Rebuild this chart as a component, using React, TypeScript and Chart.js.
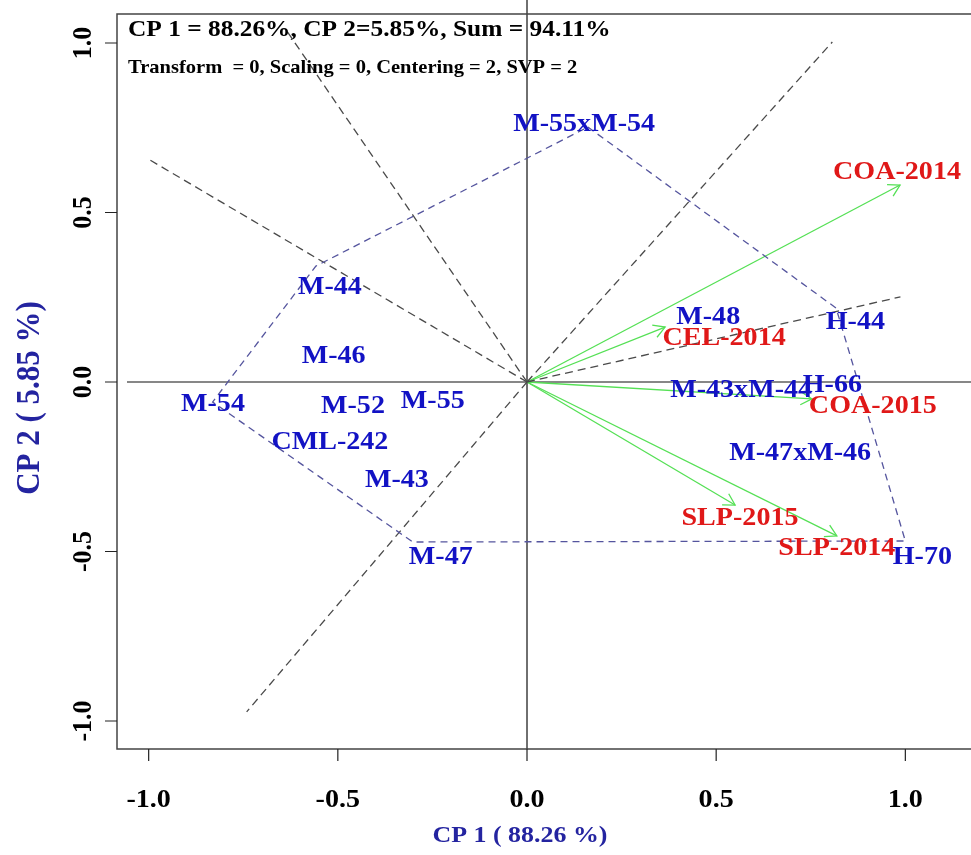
import React, { useEffect, useRef } from "react";
import { Chart, registerables } from "chart.js";

Chart.register(...registerables);

// ---------- data ----------
const genotypeNames = ["M-55xM-54", "M-44", "M-46", "M-54", "M-52", "M-55", "CML-242", "M-43", "M-47", "M-48", "H-44", "M-43xM-44", "H-66", "M-47xM-46", "H-70"];
const genotypeX = [0.151, -0.521, -0.511, -0.83, -0.46, -0.249, -0.521, -0.344, -0.228, 0.479, 0.868, 0.566, 0.807, 0.722, 1.045];
const genotypeY = [0.761, 0.28, 0.077, -0.065, -0.071, -0.056, -0.177, -0.289, -0.516, 0.192, 0.177, -0.024, -0.009, -0.209, -0.516];

const hullX = [0.161, 0.817, 1.0, -0.302, -0.831, -0.558, 0.161];
const hullY = [0.752, 0.218, -0.469, -0.472, -0.059, 0.342, 0.752];

const envNames = ["COA-2014", "CEL-2014", "COA-2015", "SLP-2015", "SLP-2014"];
const envX = [0.986, 0.365, 0.753, 0.55, 0.819];
const envY = [0.581, 0.162, -0.05, -0.363, -0.454];
const envLabelX = [0.978, 0.521, 0.914, 0.563, 0.819];
const envLabelY = [0.619, 0.13, -0.071, -0.401, -0.49];

const sectorX = [0.807, -0.64, -0.997, -0.741, 0.987];
const sectorY = [1.003, 1.044, 0.655, -0.973, 0.251];

const xTicks = [-1, -0.5, 0, 0.5, 1];
const xTickLabels = ["-1.0", "-0.5", "0.0", "0.5", "1.0"];
const yTicks = [-1, -0.5, 0, 0.5, 1];
const yTickLabels = ["-1.0", "-0.5", "0.0", "0.5", "1.0"];

const titleLine1 = "CP 1 = 88.26%, CP 2=5.85%, Sum = 94.11%";
const titleLine2 = "Transform  = 0, Scaling = 0, Centering = 2, SVP = 2";
const xTitle = "CP 1 ( 88.26 %)";
const yTitle = "CP 2 ( 5.85 %)";

// ---------- styles ----------
const SERIF = "'Liberation Serif', 'Times New Roman', serif";
const SX = 1.08;
const BLUE = "#1212c4";
const RED = "#e01818";
const GREEN = "#55e055";
const HULL = "#55559e";
const GRAY = "#4a4a4a";
const TITLE_BLUE = "#2424a0";

function drawText(ctx: CanvasRenderingContext2D, text: string, x: number, y: number, size: number, color: string, align: CanvasTextAlign = "center", rotate = false) {
  ctx.save();
  ctx.translate(x, y);
  ctx.scale(SX, 1);
  if (rotate) ctx.rotate(-Math.PI / 2);
  ctx.font = `bold ${size}px ${SERIF}`;
  ctx.fillStyle = color;
  ctx.textAlign = align;
  ctx.textBaseline = "middle";
  ctx.fillText(text, 0, 0);
  ctx.restore();
}

const decorPlugin = {
  id: "decor",
  beforeDatasetsDraw(chart: any) {
    const ctx = chart.ctx as CanvasRenderingContext2D;
    const { left, right, bottom } = chart.chartArea;
    const xs = chart.scales.x;
    const ys = chart.scales.y;
    ctx.save();
    ctx.strokeStyle = "#111";
    ctx.lineWidth = 1.2;
    const x0 = xs.getPixelForValue(0);
    const y0 = ys.getPixelForValue(0);
    ctx.beginPath();
    ctx.moveTo(x0, 0);
    ctx.lineTo(x0, bottom);
    ctx.moveTo(left + 10, y0);
    ctx.lineTo(right + 2, y0);
    ctx.stroke();
    ctx.restore();
  },
  afterDatasetsDraw(chart: any) {
    const ctx = chart.ctx as CanvasRenderingContext2D;
    const { left, right, top, bottom } = chart.chartArea;
    const xs = chart.scales.x;
    const ys = chart.scales.y;
    const ox = xs.getPixelForValue(0);
    const oy = ys.getPixelForValue(0);

    // arrow heads
    ctx.save();
    ctx.strokeStyle = GREEN;
    ctx.lineWidth = 1.3;
    envX.forEach((v, i) => {
      const tx = xs.getPixelForValue(v);
      const ty = ys.getPixelForValue(envY[i]);
      const a = Math.atan2(ty - oy, tx - ox);
      const L = 13;
      ctx.beginPath();
      ctx.moveTo(tx - L * Math.cos(a - Math.PI / 6), ty - L * Math.sin(a - Math.PI / 6));
      ctx.lineTo(tx, ty);
      ctx.lineTo(tx - L * Math.cos(a + Math.PI / 6), ty - L * Math.sin(a + Math.PI / 6));
      ctx.stroke();
    });
    ctx.restore();

    // frame
    ctx.save();
    ctx.strokeStyle = "#444";
    ctx.lineWidth = 1.5;
    ctx.beginPath();
    ctx.moveTo(right + 5, top);
    ctx.lineTo(left, top);
    ctx.lineTo(left, bottom);
    ctx.lineTo(right + 5, bottom);
    ctx.stroke();
    ctx.lineWidth = 1.2;
    ctx.strokeStyle = "#222";
    ctx.beginPath();
    xTicks.forEach((t) => {
      const px = xs.getPixelForValue(t);
      ctx.moveTo(px, bottom);
      ctx.lineTo(px, bottom + 12);
    });
    yTicks.forEach((t) => {
      const py = ys.getPixelForValue(t);
      ctx.moveTo(left, py);
      ctx.lineTo(left - 12, py);
    });
    ctx.stroke();
    ctx.restore();

    // tick labels
    xTicks.forEach((t, i) => drawText(ctx, xTickLabels[i], xs.getPixelForValue(t), bottom + 51, 26, "#000"));
    yTicks.forEach((t, i) => drawText(ctx, yTickLabels[i], left - 33, ys.getPixelForValue(t), 26, "#000", "center", true));

    // axis titles
    drawText(ctx, xTitle, 520, 836, 24, TITLE_BLUE);
    drawText(ctx, yTitle, 30, 398, 31, TITLE_BLUE, "center", true);

    // genotype labels
    genotypeNames.forEach((n, i) => drawText(ctx, n, xs.getPixelForValue(genotypeX[i]), ys.getPixelForValue(genotypeY[i]), 26, BLUE));
    // environment labels
    envNames.forEach((n, i) => drawText(ctx, n, xs.getPixelForValue(envLabelX[i]), ys.getPixelForValue(envLabelY[i]), 26, RED));

    // titles
    drawText(ctx, titleLine1, left + 11, 30, 23.5, "#000", "left");
    drawText(ctx, titleLine2, left + 11, 68, 19, "#000", "left");
  },
};

export default function App() {
  const ref = useRef<HTMLCanvasElement | null>(null);
  useEffect(() => {
    if (!ref.current) return;
    const datasets: any[] = [];
    datasets.push({
      data: hullX.map((x, i) => ({ x, y: hullY[i] })),
      showLine: true,
      borderColor: HULL,
      borderWidth: 1.3,
      borderDash: [7, 5],
      pointRadius: 0,
      tension: 0,
    });
    sectorX.forEach((x, i) => {
      datasets.push({
        data: [{ x: 0, y: 0 }, { x, y: sectorY[i] }],
        showLine: true,
        borderColor: GRAY,
        borderWidth: 1.3,
        borderDash: [8, 5],
        pointRadius: 0,
      });
    });
    envX.forEach((x, i) => {
      datasets.push({
        data: [{ x: 0, y: 0 }, { x, y: envY[i] }],
        showLine: true,
        borderColor: GREEN,
        borderWidth: 1.3,
        pointRadius: 0,
      });
    });
    const chart = new Chart(ref.current, {
      type: "scatter",
      data: { datasets },
      options: {
        animation: false,
        responsive: false,
        events: [],
        layout: { padding: { left: 117, top: 14, right: 1, bottom: 106 } },
        plugins: { legend: { display: false }, tooltip: { enabled: false } },
        scales: {
          x: { type: "linear", min: -1.0837, max: 1.1709, display: false },
          y: { type: "linear", min: -1.0826, max: 1.0855, display: false },
        },
      },
      plugins: [decorPlugin],
    });
    return () => chart.destroy();
  }, []);
  return (
    <div style={{ position: "fixed", left: 0, top: 0, width: 971, height: 855, background: "#fff" }}>
      <canvas ref={ref} width={971} height={855} style={{ display: "block" }} />
    </div>
  );
}
